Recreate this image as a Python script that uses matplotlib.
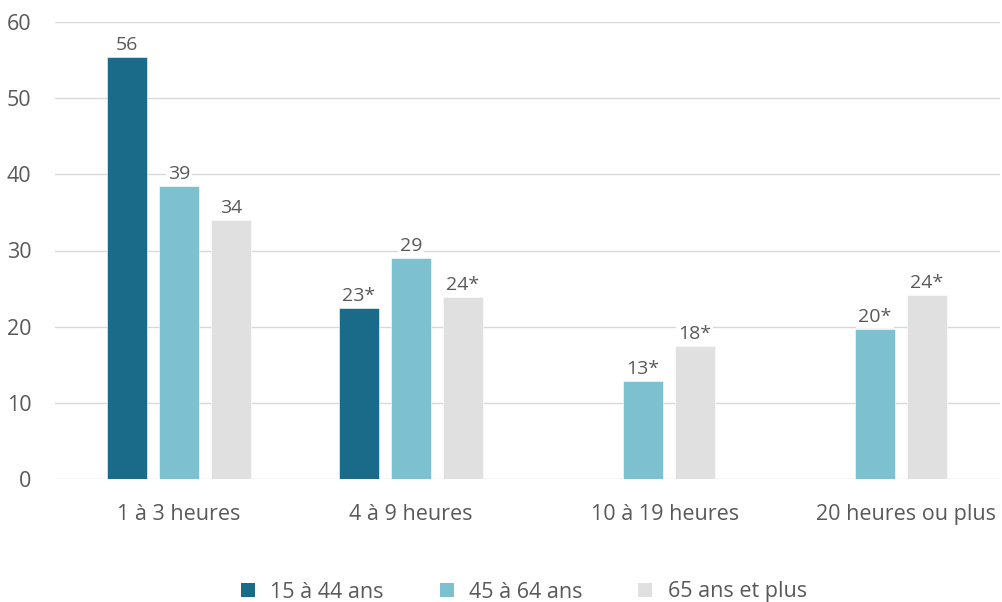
import numpy as np
import matplotlib
matplotlib.use("Agg")
import matplotlib.pyplot as plt
from matplotlib.patches import Patch
import matplotlib.transforms as mtransforms

# Data
categories = ['1 à 3 heures', '4 à 9 heures', '10 à 19 heures', '20 heures ou plus']
series_names = ['15 à 44 ans', '45 à 64 ans', '65 ans et plus']
v_15_44 = [55.4, 22.4, np.nan, np.nan]
v_45_64 = [38.5, 29.0, 12.9, 19.7]
v_65 = [34.0, 23.9, 17.5, 24.2]
lbl_15_44 = ['56', '23*', '', '']
lbl_45_64 = ['39', '29', '13*', '20*']
lbl_65 = ['34', '24*', '18*', '24*']

colors = ['#1a6b8a', '#7dc0cf', '#e0e0e0']
text_col = '#595959'
grid_col = '#d9d9d9'

plt.rcParams['font.family'] = ['Open Sans', 'DejaVu Sans']

fig = plt.figure(figsize=(10.02, 6.02), dpi=100)
ax = fig.add_axes([55 / 1002, (602 - 479) / 602, 945 / 1002, (479 - 22) / 602])

x = np.arange(len(categories))
width = 0.172
step = 0.224
all_vals = [v_15_44, v_45_64, v_65]
all_lbls = [lbl_15_44, lbl_45_64, lbl_65]
for i, (vals, lbls) in enumerate(zip(all_vals, all_lbls)):
    pos = x + (i - 1) * step
    ax.bar(pos, vals, width, color=colors[i], edgecolor='white', linewidth=0.4, zorder=3)
    for p, v, t in zip(pos, vals, lbls):
        if t and not np.isnan(v):
            ax.text(p, v + 0.4, t, ha='center', va='bottom', fontsize=14, color=text_col,
                    zorder=4, bbox=dict(boxstyle='square,pad=0.1', fc='white', ec='none'))

ax.set_xlim(-0.534, 3.539)
ax.set_ylim(0, 60)
ax.set_yticks(range(0, 61, 10))
ax.yaxis.grid(True, color=grid_col, linewidth=1, zorder=0)
ax.set_axisbelow(True)
for s in ax.spines.values():
    s.set_visible(False)
ax.tick_params(axis='both', length=0, labelsize=15.5, labelcolor=text_col)
ax.tick_params(axis='y', pad=17)
ax.tick_params(axis='x', pad=18)
ax.set_xticks(x)
ax.set_xticklabels(categories)

# Excel-like shift of the last two category labels
shifts = [0, 0, 22, 31]
for lab, dx in zip(ax.get_xticklabels(), shifts):
    lab.set_transform(lab.get_transform() + mtransforms.ScaledTranslation(dx / 100, 0, fig.dpi_scale_trans))

handles = [Patch(facecolor=c, edgecolor='none') for c in colors]
fig.legend(handles, series_names, loc='center', bbox_to_anchor=(524 / 1002, 1 - 592 / 602),
           ncol=3, frameon=False, fontsize=15.5, labelcolor=text_col,
           handlelength=0.65, handleheight=0.65, handletextpad=0.7, columnspacing=2.6)

fig.savefig('out.png', dpi=100)
